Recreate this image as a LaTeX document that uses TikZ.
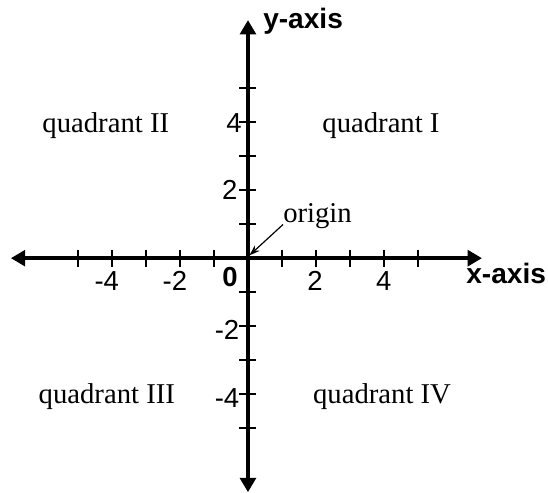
\documentclass[tikz,border=0pt]{standalone}
\usepackage{fontspec}
\setmainfont{Liberation Serif}
\setsansfont{Liberation Sans}
\usepackage{tikz}
\usetikzlibrary{arrows.meta}

\tikzset{
  axis/.style={line width=3.8pt,{Triangle[length=0.42cm,width=0.46cm]}-{Triangle[length=0.42cm,width=0.46cm]}},
  tick/.style={line width=1.6pt},
  num/.style={font=\fontsize{23}{26}\sffamily,inner sep=0pt},
  axlabel/.style={font=\fontsize{23.5}{27}\sffamily\bfseries,inner sep=0pt,anchor=base},
  quad/.style={font=\fontsize{24}{28}\selectfont,inner sep=0pt,anchor=base},
}

\begin{document}
\begin{tikzpicture}[>=stealth]
  \useasboundingbox (-7.29,-6.88) rectangle (8.82,7.59);
  % axes
  \coordinate (O) at (0,0);
  \coordinate (xl) at (-6.97,0);
  \coordinate (xr) at (6.88,0);
  \coordinate (yb) at (0,-6.88);
  \coordinate (yt) at (0,7.0);
  \draw[axis] (xl) -- (xr);
  \draw[axis] (yb) -- (yt);
  \foreach \i in {-5,...,-1,1,2,...,5} {
    \draw[tick] (\i,-0.25) -- (\i,0.25);
    \draw[tick] (-0.25,\i) -- (0.25,\i);
  }
  % tick labels
  \node[num] (xm4) at (-4.15,-0.66) {-4};
  \node[num] (xm2) at (-2.15,-0.66) {-2};
  \node[num] (x2) at (1.97,-0.66) {2};
  \node[num] (x4) at (3.99,-0.66) {4};
  \node[num,font=\fontsize{23}{26}\sffamily\bfseries] (zero) at (-0.53,-0.55) {0};
  \node[num,anchor=east] (y4) at (-0.18,3.96) {4};
  \node[num,anchor=east] (y2) at (-0.3,2.0) {2};
  \node[num,anchor=east] (ym2) at (-0.25,-2.1) {-2};
  \node[num,anchor=east] (ym4) at (-0.25,-4.1) {-4};
  \node[axlabel] (xlab) at (7.59,-0.74) {x-axis};
  \node[axlabel] (ylab) at (1.62,6.76) {y-axis};
  % quadrants
  \node[quad] (q1) at (3.91,3.7) {quadrant I};
  \node[quad] (q2) at (-4.18,3.7) {quadrant II};
  \node[quad] (q3) at (-4.15,-4.26) {quadrant III};
  \node[quad] (q4) at (3.94,-4.26) {quadrant IV};
  \node[quad,anchor=base west] (orig) at (1.03,1.06) {origin};
  \draw[-{Stealth[length=9pt,width=6pt]},line width=1pt] ([yshift=-2pt]orig.base west) -- ([shift={(0.04,0.08)}]O);
\end{tikzpicture}
\end{document}
